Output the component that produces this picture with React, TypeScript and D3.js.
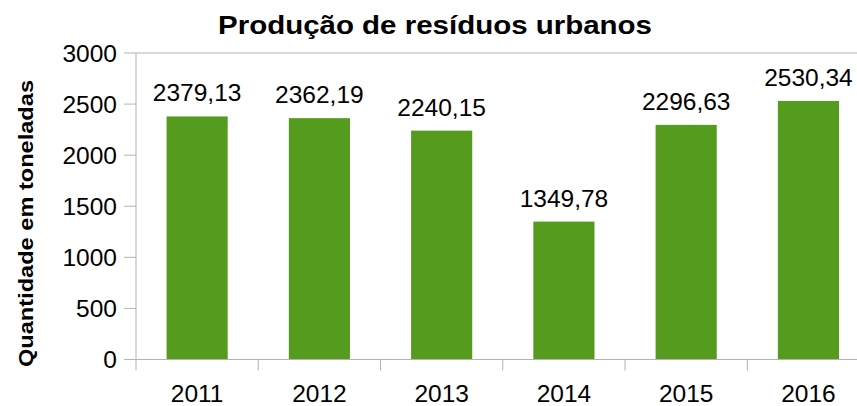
import * as d3 from "d3";
import React from "react";

// dados do gráfico
const anos = ["2011", "2012", "2013", "2014", "2015", "2016"];
const toneladas = [2379.13, 2362.19, 2240.15, 1349.78, 2296.63, 2530.34];
const yTicks = [0, 500, 1000, 1500, 2000, 2500, 3000];

const titulo = "Produção de resíduos urbanos";
const eixoY = "Quantidade em toneladas";

const W = 857;
const H = 406;
const left = 136;
const top = 53;
const bottom = 359.5;
const right = 136 + 122.26 * 6;

const FONT = "'Liberation Sans', Arial, sans-serif";
const GREEN = "#559b1e";
const GREY = "#b3b3b3";
const NUM = 24.5;

const fmt = (v: number) => v.toFixed(2).replace(".", ",");

export default function App() {
  const x = d3.scaleBand().domain(anos).range([left, right]).paddingInner(0.5).paddingOuter(0.25);
  const xb = d3.scaleBand().domain(anos).range([left, right]);
  const y = d3.scaleLinear().domain([0, 3000]).range([bottom, top]);

  return (
    <svg
      width={W}
      height={H}
      style={{ position: "absolute", left: 0, top: 0, background: "#fff" }}
      fontFamily={FONT}
    >
      <text
        x={435}
        y={34}
        textAnchor="middle"
        fontSize={26}
        fontWeight="bold"
        textLength={434}
        lengthAdjust="spacingAndGlyphs"
      >
        {titulo}
      </text>
      <text
        transform={`translate(33, 223.5) rotate(-90)`}
        textAnchor="middle"
        fontSize={20}
        fontWeight="bold"
        textLength={287}
        lengthAdjust="spacingAndGlyphs"
      >
        {eixoY}
      </text>

      {/* borda superior e eixo y */}
      <line x1={left} x2={W} y1={y(3000)} y2={y(3000)} stroke={GREY} strokeWidth={1} />
      <line x1={left} x2={left} y1={top} y2={bottom + 11} stroke={GREY} strokeWidth={1} />

      {yTicks.map((t) => (
        <g key={t}>
          <line x1={left - 12} x2={left} y1={y(t)} y2={y(t)} stroke={GREY} />
          <text x={117} y={y(t) + 8.5} textAnchor="end" fontSize={NUM}>
            {t}
          </text>
        </g>
      ))}

      {anos.map((a, i) => (
        <rect
          key={a}
          x={x(a)}
          y={y(toneladas[i])}
          width={x.bandwidth()}
          height={bottom - y(toneladas[i])}
          fill={GREEN}
        />
      ))}

      <line x1={left} x2={W} y1={bottom} y2={bottom} stroke={GREY} />
      {anos.map((a) => (
        <line
          key={"t" + a}
          x1={(xb(a) as number) + xb.bandwidth()}
          x2={(xb(a) as number) + xb.bandwidth()}
          y1={bottom}
          y2={bottom + 11}
          stroke={GREY}
        />
      ))}

      {anos.map((a, i) => (
        <g key={"l" + a}>
          <text
            x={(x(a) as number) + x.bandwidth() / 2}
            y={y(toneladas[i]) - 15}
            textAnchor="middle"
            fontSize={NUM}
          >
            {fmt(toneladas[i])}
          </text>
          <text
            x={(x(a) as number) + x.bandwidth() / 2}
            y={402}
            textAnchor="middle"
            fontSize={NUM}
          >
            {a}
          </text>
        </g>
      ))}
    </svg>
  );
}
